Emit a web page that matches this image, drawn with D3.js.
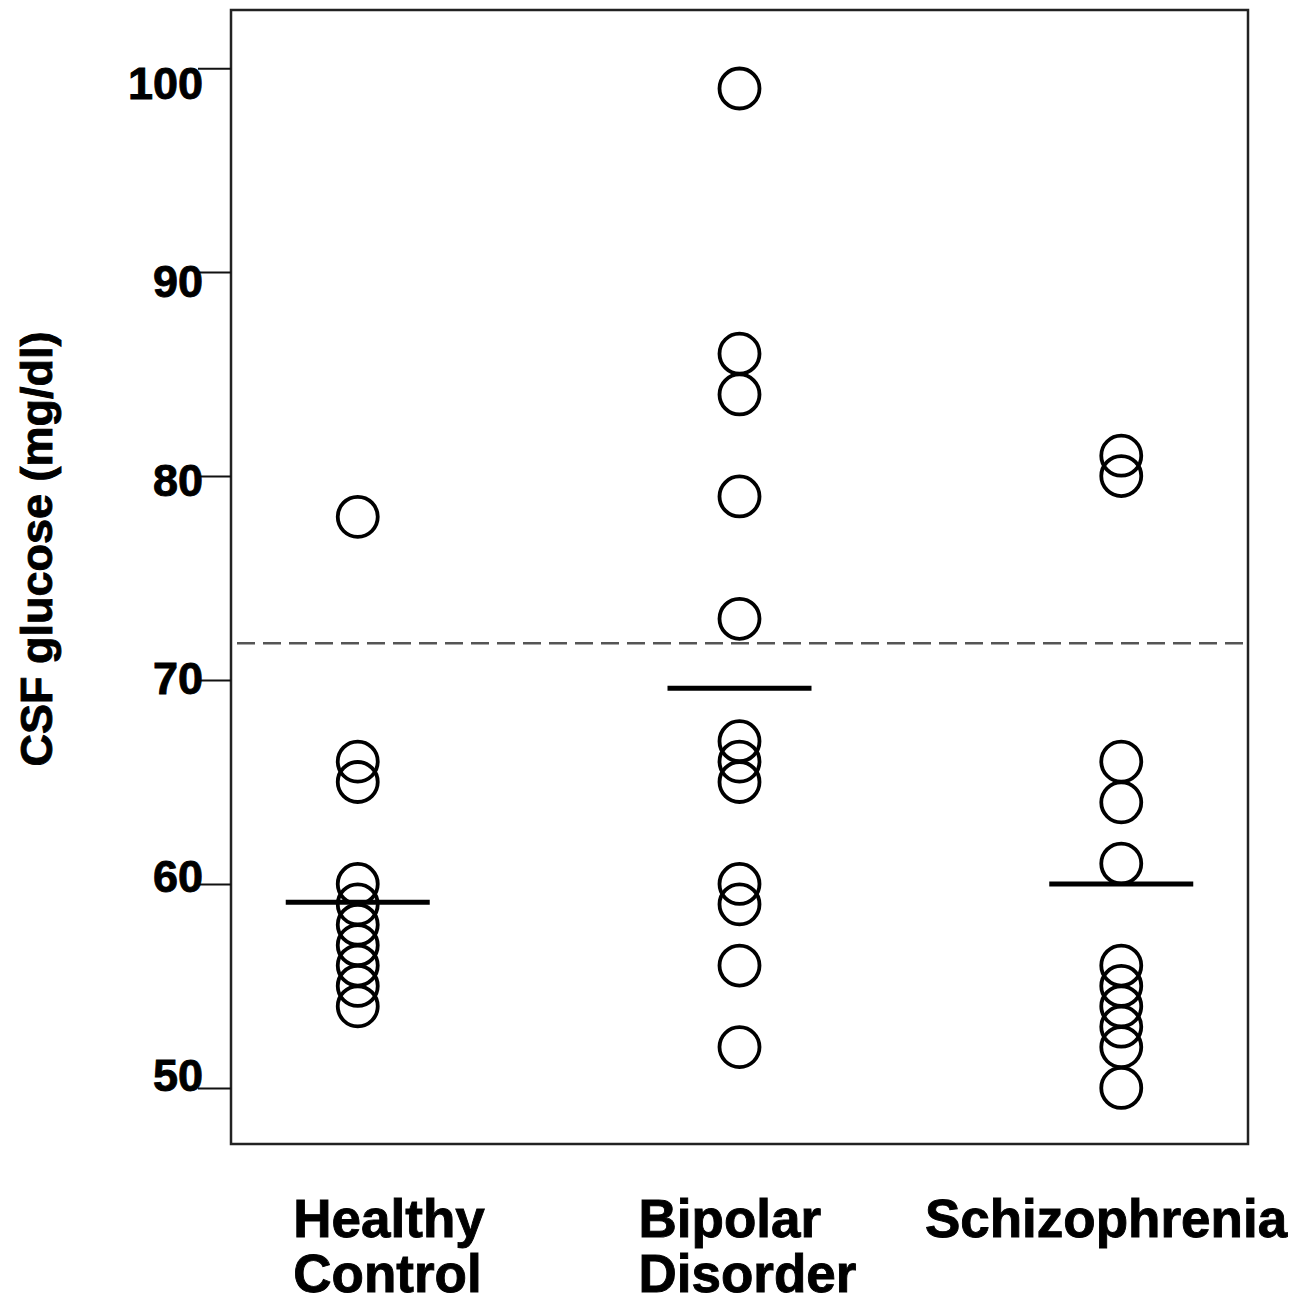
<!DOCTYPE html>
<html>
<head>
<meta charset="utf-8">
<script src="https://cdn.jsdelivr.net/npm/d3@7"></script>
<style>
  body { margin: 0; background: #fff; }
  text { font-family: "Liberation Sans", Arial, sans-serif; font-weight: bold; fill: #000; stroke: #000; stroke-width: 0.9px; }
</style>
</head>
<body>
<svg id="chart" width="1308" height="1307"></svg>
<script>
// Data
const categories = ["Healthy Control", "Bipolar Disorder", "Schizophrenia"];
const categoryLines = [["Healthy", "Control"], ["Bipolar", "Disorder"], ["Schizophrenia"]];
const healthyValues = [78, 66, 65, 60, 59, 58, 57, 56, 55, 54];
const bipolarValues = [99, 86, 84, 79, 73, 67, 66, 65, 60, 59, 56, 52];
const schizoValues = [81, 80, 66, 64, 61, 56, 55, 54, 53, 52, 50];
const groupLines = [59.1, 69.6, 60.0];
const referenceLine = 71.8;
const yTicks = [50, 60, 70, 80, 90, 100];
const yTitle = "CSF glucose (mg/dl)";

const svg = d3.select("#chart");

// plot box
const box = { left: 231, top: 10, right: 1248, bottom: 1144 };

const x = d3.scalePoint()
  .domain(categories)
  .range([box.left, box.right])
  .padding(0.332);

const y = d3.scaleLinear()
  .domain([47.25, 102.85])
  .range([box.bottom, box.top]);

// tick labels sit on a slightly squeezed scale in the original
const labelY = d3.scaleLinear().domain([50, 100]).range([1074, 82]);
const labelX = d3.scalePoint().domain(categories).range([389, 1106]);

// frame
svg.append("rect")
  .attr("x", box.left)
  .attr("y", box.top)
  .attr("width", box.right - box.left)
  .attr("height", box.bottom - box.top)
  .attr("fill", "none")
  .attr("stroke", "#222")
  .attr("stroke-width", 2.5);

// y axis
const yAxis = svg.append("g")
  .attr("transform", `translate(${box.left},0)`)
  .call(d3.axisLeft(y)
    .tickValues(yTicks)
    .tickSize(33)
    .tickPadding(-5)
    .tickFormat(d3.format("d")))
  .attr("font-family", null)
  .attr("font-size", null);

yAxis.select(".domain").remove();
yAxis.selectAll(".tick line").attr("stroke", "#111").attr("stroke-width", 2);
yAxis.selectAll(".tick text")
  .attr("font-size", 45)
  .attr("fill", "#000")
  .attr("y", d => labelY(d) - y(d))
  .attr("dy", "0.36em");

// y title
svg.append("text")
  .attr("transform", `translate(52,549) rotate(-90)`)
  .attr("text-anchor", "middle")
  .attr("font-size", 45)
  .text(yTitle);

// reference (dashed) line
svg.append("line")
  .attr("x1", box.left)
  .attr("x2", box.right)
  .attr("y1", y(referenceLine))
  .attr("y2", y(referenceLine))
  .attr("stroke", "#555")
  .attr("stroke-width", 2.5)
  .attr("stroke-dasharray", "18,8")
  .attr("stroke-dashoffset", 20);

// points
const groups = [healthyValues, bipolarValues, schizoValues];
const points = [];
groups.forEach((vals, i) => vals.forEach(v => points.push({ cat: categories[i], value: v })));

svg.selectAll(".dot")
  .data(points)
  .enter().append("circle")
  .attr("class", "dot")
  .attr("cx", d => x(d.cat))
  .attr("cy", d => y(d.value))
  .attr("r", 20)
  .attr("fill", "none")
  .attr("stroke", "#000")
  .attr("stroke-width", 3.8);

// group lines
svg.selectAll(".group-line")
  .data(groupLines)
  .enter().append("line")
  .attr("class", "group-line")
  .attr("x1", (d, i) => x(categories[i]) - 72)
  .attr("x2", (d, i) => x(categories[i]) + 72)
  .attr("y1", d => y(d))
  .attr("y2", d => y(d))
  .attr("stroke", "#000")
  .attr("stroke-width", 5);

// category labels: left aligned lines, block centred
categories.forEach((cat, i) => {
  const g = svg.append("g");
  const texts = categoryLines[i].map((line, j) =>
    g.append("text")
      .attr("x", 0)
      .attr("y", 1237 + j * 55)
      .attr("font-size", 53)
      .text(line));
  const w = d3.max(texts, t => t.node().getComputedTextLength());
  g.attr("transform", `translate(${labelX(cat) - w / 2},0)`);
});
</script>
</body>
</html>
